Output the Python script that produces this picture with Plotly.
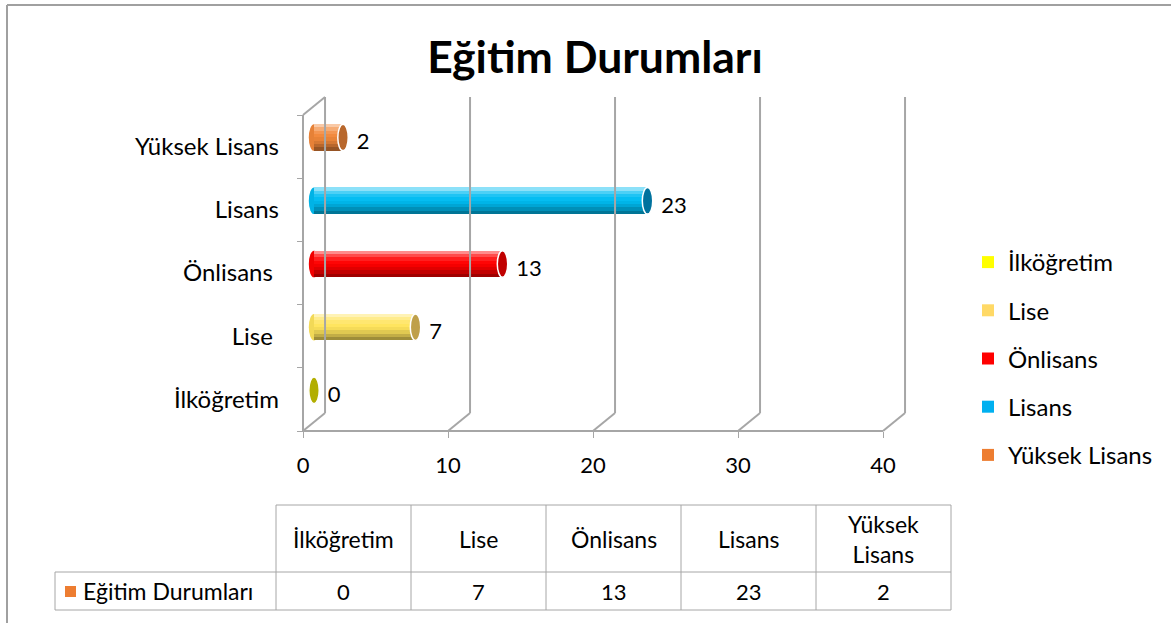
import plotly.graph_objects as go

# ---------------- data ----------------
categories = ["İlköğretim", "Lise", "Önlisans", "Lisans", "Yüksek Lisans"]
values = [0, 7, 13, 23, 2]
series_name = "Eğitim Durumları"
chart_title = "Eğitim Durumları"
x_ticks = [0, 10, 20, 30, 40]

legend_colors = ["#FFFF00", "#FFD966", "#FF0000", "#00B0F0", "#ED7D31"]
bar_colors = ["#FFFF00", "#FFE45C", "#FF0000", "#00BCF2", "#F2883A"]
cap_colors = ["#B2AE00", "#BFA04A", "#C00000", "#00729E", "#B8672C"]
series_color = "#ED7D31"

# ---------------- layout constants ----------------
W, H = 1171, 623
FONT = "Lato"
FS = 24          # text size
FN = 22          # number size
X0PX, XUNIT = 303, 14.5      # pixel of x=0, pixels per unit
Y0PX, YUNIT = 431, 63.2      # pixel of y=0 (front floor), pixels per category
XMIN, XMAX = -0.6, 42
YMIN, YMAX = -0.3, 5.6
DX, DY = 1.52, 0.285         # 3-D depth offset in data units
BAR_H = 0.42
CAP_W = 0.36
GRID = "#A6A6A6"

def px(x):
    return x / W

def py(y):
    return 1 - y / H

def shade(hexc, f):
    r, g, b = int(hexc[1:3], 16), int(hexc[3:5], 16), int(hexc[5:7], 16)
    if f >= 0:
        r, g, b = [c + (255 - c) * f for c in (r, g, b)]
    else:
        r, g, b = [c * (1 + f) for c in (r, g, b)]
    return "#%02X%02X%02X" % (int(round(r)), int(round(g)), int(round(b)))

n = len(categories)
fig = go.Figure()

# ---------------- 3-D frame (walls / gridlines) ----------------
fx, fy = [], []
def seg(x0, y0, x1, y1):
    fx.extend([x0, x1, None])
    fy.extend([y0, y1, None])

seg(x_ticks[0], 0, x_ticks[-1], 0)
for g in x_ticks:
    seg(g, 0, g + DX, DY)
    seg(g + DX, DY, g + DX, n + DY)
seg(0, 0, 0, n)
seg(0, n, DX, n + DY)
fig.add_trace(go.Scatter(x=fx, y=fy, mode="lines", line=dict(color=GRID, width=2),
                         hoverinfo="skip", showlegend=False))

# ---------------- cylinder bars (stacked shading stripes) ----------------
profile = [0.55, 0.3, 0.12, 0.02, -0.04, -0.12, -0.24, -0.38]
sh = BAR_H / len(profile)
centers = [i + 0.5 + DY / 2 for i in range(n)]
for k, f in enumerate(profile):
    off = BAR_H / 2 - (k + 0.5) * sh
    fig.add_trace(go.Bar(
        x=values, y=[c + off for c in centers], base=[DX / 2] * n,
        orientation="h", width=sh * 1.05,
        marker=dict(color=[shade(c, f) for c in bar_colors], line=dict(width=0)),
        hoverinfo="skip", showlegend=False))

shapes = []
for i, v in enumerate(values):
    c = centers[i]
    # rounded left end
    shapes.append(dict(type="circle", xref="x", yref="y", layer="below",
                       x0=DX / 2 - CAP_W, x1=DX / 2 + CAP_W,
                       y0=c - BAR_H / 2, y1=c + BAR_H / 2,
                       fillcolor=shade(bar_colors[i], -0.05), line=dict(width=0)))
    # end cap
    end = DX / 2 + v
    shapes.append(dict(type="circle", xref="x", yref="y", layer="above",
                       x0=end - CAP_W, x1=end + CAP_W,
                       y0=c - BAR_H / 2, y1=c + BAR_H / 2,
                       fillcolor=cap_colors[i], line=dict(color="white", width=1.5)))

# data labels
fig.add_trace(go.Scatter(
    x=[DX / 2 + v + 0.95 for v in values], y=[c - 0.1 for c in centers], mode="text",
    text=[str(v) for v in values], textposition="middle right",
    textfont=dict(family=FONT, size=FN, color="black"),
    hoverinfo="skip", showlegend=False, cliponaxis=False))

# legend entries
for i, cat in enumerate(categories):
    fig.add_trace(go.Bar(x=[None], y=[None], name=cat, legendgroup=cat,
                         marker=dict(color=legend_colors[i], line=dict(width=0)),
                         orientation="h"))

# ---------------- data table below the chart ----------------
col_edges = [55, 276, 411, 546, 681, 816, 951]
row_edges = [505, 572, 610]
TL = dict(color=GRID, width=1)

def pline(x0, y0, x1, y1):
    shapes.append(dict(type="line", xref="paper", yref="paper",
                       x0=px(x0), y0=py(y0), x1=px(x1), y1=py(y1), line=TL))

pline(col_edges[1], row_edges[0], col_edges[-1], row_edges[0])
for xe in col_edges[1:]:
    pline(xe, row_edges[0], xe, row_edges[1])
pline(col_edges[0], row_edges[1], col_edges[-1], row_edges[1])
pline(col_edges[0], row_edges[2], col_edges[-1], row_edges[2])
for xe in col_edges:
    pline(xe, row_edges[1], xe, row_edges[2])

annotations = []
for j, cat in enumerate(categories):
    cx = (col_edges[j + 1] + col_edges[j + 2]) / 2
    annotations.append(dict(
        x=px(cx), y=py((row_edges[0] + row_edges[1]) / 2), xref="paper", yref="paper",
        text=cat.replace(" ", "<br>"), showarrow=False, xanchor="center", yanchor="middle",
        font=dict(family=FONT, size=FS - 1, color="black")))
    annotations.append(dict(
        x=px(cx), y=py((row_edges[1] + row_edges[2]) / 2), xref="paper", yref="paper",
        text=str(values[j]), showarrow=False, xanchor="center", yanchor="middle",
        font=dict(family=FONT, size=FN, color="black")))

# series key + name in the table
shapes.append(dict(type="rect", xref="paper", yref="paper",
                   x0=px(65), x1=px(76), y0=py(586), y1=py(597),
                   fillcolor=series_color, line=dict(width=0)))
annotations.append(dict(
    x=px(81), y=py((row_edges[1] + row_edges[2]) / 2), xref="paper", yref="paper",
    text=series_name, showarrow=False, xanchor="left", yanchor="middle",
    font=dict(family=FONT, size=FS - 1, color="black")))

# outer chart border (top and left)
shapes.append(dict(type="line", xref="paper", yref="paper", x0=px(7), y0=py(5), x1=1, y1=py(5),
                   line=dict(color="#A0A0A0", width=2)))
shapes.append(dict(type="line", xref="paper", yref="paper", x0=px(7), y0=py(5), x1=px(7), y1=0,
                   line=dict(color="#A0A0A0", width=2)))

# ---------------- layout ----------------
ytext = [c + "\u00a0" if c in ("Önlisans", "Lise") else c for c in categories]
fig.update_layout(
    width=W, height=H, autosize=False,
    margin=dict(l=0, r=0, t=0, b=0),
    paper_bgcolor="white", plot_bgcolor="rgba(0,0,0,0)",
    barmode="overlay", bargap=0,
    font=dict(family=FONT, size=FS, color="black"),
    title=dict(text="<b>" + chart_title + "</b>", x=px(595), y=py(57),
               xanchor="center", yanchor="middle",
               font=dict(family=FONT, size=44.5, color="black")),
    xaxis=dict(range=[XMIN, XMAX], showgrid=False, zeroline=False, showline=False,
               domain=[px(X0PX + XMIN * XUNIT), px(X0PX + XMAX * XUNIT)],
               anchor="free", position=py(Y0PX),
               tickmode="array", tickvals=x_ticks, ticktext=[str(t) for t in x_ticks],
               ticks="outside", ticklen=6, tickcolor=GRID, tickwidth=1,
               ticklabelstandoff=9,
               tickfont=dict(family=FONT, size=FN, color="black"), fixedrange=True),
    yaxis=dict(range=[YMIN, YMAX], showgrid=False, zeroline=False, showline=False,
               domain=[py(Y0PX - YMIN * YUNIT), py(Y0PX - YMAX * YUNIT)],
               anchor="free", position=px(X0PX),
               tickmode="array", tickvals=[i + 0.5 for i in range(n)], ticktext=ytext,
               ticks="", ticklabelstandoff=24,
               minor=dict(tickvals=list(range(n + 1)), ticks="outside", ticklen=6,
                          tickcolor=GRID, tickwidth=1, showgrid=False),
               tickfont=dict(family=FONT, size=FS, color="black"), fixedrange=True),
    legend=dict(x=px(968), y=py(240), xanchor="left", yanchor="top",
                traceorder="grouped", tracegroupgap=14,
                font=dict(family=FONT, size=FS, color="black"),
                bgcolor="rgba(0,0,0,0)", itemclick=False, itemdoubleclick=False),
    shapes=shapes, annotations=annotations,
    hovermode=False,
)

fig.write_html("out.html", config={"displayModeBar": False},
               post_script="document.body.style.margin='0px';document.body.style.overflow='hidden';")
